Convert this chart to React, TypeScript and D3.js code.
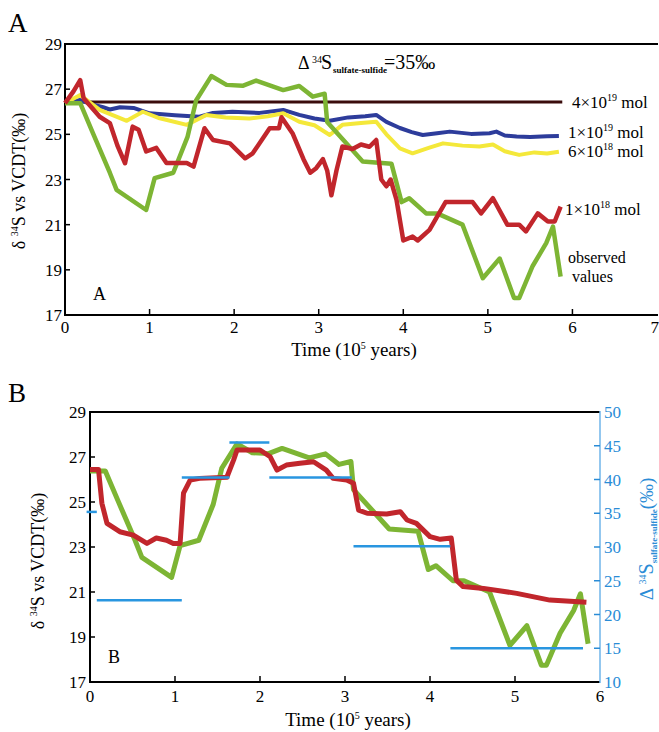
import React from "react";
import * as d3 from "d3";

type Pt = [number, number];

// time in 10^5 years, δ34S in ‰
const observed: Pt[] = [
  [0, 26.38], [0.18, 26.38], [0.33, 25.05], [0.53, 23.3], [0.61, 22.54], [0.96, 21.65],
  [1.06, 23.06], [1.28, 23.3], [1.45, 24.9], [1.55, 26.5], [1.73, 27.58], [1.91, 27.19],
  [2.1, 27.15], [2.26, 27.38], [2.58, 26.96], [2.77, 27.14], [2.93, 26.67], [3.07, 26.8],
  [3.1, 25.55], [3.52, 23.8], [3.86, 23.7], [3.98, 22.0], [4.07, 22.17], [4.27, 21.5],
  [4.4, 21.5], [4.7, 21.0], [4.94, 18.63], [5.14, 19.5], [5.31, 17.75], [5.37, 17.75],
  [5.53, 19.17], [5.69, 20.18], [5.77, 20.92], [5.86, 18.7],
];

const model1e18: Pt[] = [
  [0, 26.38], [0.1, 26.9], [0.18, 27.4], [0.22, 26.6], [0.41, 25.78], [0.53, 25.5],
  [0.62, 24.5], [0.71, 23.72], [0.8, 25.34], [0.87, 25.2], [0.96, 24.24], [1.08, 24.4],
  [1.2, 23.73], [1.44, 23.73], [1.52, 23.57], [1.65, 25.27], [1.75, 24.75], [1.95, 24.6],
  [2.13, 23.94], [2.22, 24.16], [2.42, 25.27], [2.53, 25.27], [2.56, 25.76], [2.69, 25.05],
  [2.82, 23.9], [2.9, 23.3], [2.97, 23.5], [3.05, 23.9], [3.1, 23.4], [3.15, 22.3],
  [3.21, 23.4], [3.28, 24.46], [3.4, 24.35], [3.5, 24.55], [3.6, 24.45], [3.68, 24.75],
  [3.74, 23.0], [3.8, 22.7], [3.85, 23.0], [3.92, 22.1], [4.0, 20.3], [4.11, 20.47],
  [4.17, 20.3], [4.31, 20.77], [4.39, 21.29], [4.5, 22.0], [4.82, 22.0], [4.92, 21.5],
  [5.06, 22.17], [5.23, 21.0], [5.37, 21.0], [5.45, 20.7], [5.59, 21.5], [5.71, 21.14],
  [5.79, 21.14], [5.86, 21.8],
];

const model6e18: Pt[] = [
  [0, 26.38], [0.18, 26.74], [0.41, 26.08], [0.6, 25.8], [0.73, 25.6], [0.92, 26.0],
  [1.12, 25.71], [1.44, 25.42], [1.67, 25.86], [1.9, 25.75], [2.18, 25.7], [2.4, 25.8],
  [2.58, 25.93], [2.77, 25.56], [2.95, 25.4], [3.13, 24.97], [3.28, 25.42], [3.5, 25.5],
  [3.68, 25.56], [3.8, 25.0], [3.96, 24.38], [4.11, 24.16], [4.3, 24.4], [4.47, 24.6],
  [4.7, 24.5], [4.9, 24.46], [5.06, 24.55], [5.2, 24.25], [5.37, 24.09], [5.55, 24.2],
  [5.7, 24.15], [5.84, 24.23],
];

const model1e19: Pt[] = [
  [0, 26.38], [0.18, 26.52], [0.3, 26.35], [0.45, 26.2], [0.53, 26.1], [0.65, 26.2],
  [0.81, 26.17], [1.0, 25.93], [1.3, 25.85], [1.59, 25.78], [1.75, 25.95], [1.98, 26.0],
  [2.3, 25.95], [2.58, 26.08], [2.77, 25.86], [2.95, 25.7], [3.13, 25.6], [3.35, 25.75],
  [3.55, 25.8], [3.68, 25.86], [3.8, 25.55], [3.96, 25.28], [4.1, 25.1], [4.23, 24.97],
  [4.4, 25.05], [4.55, 25.12], [4.8, 25.02], [5.02, 25.05], [5.1, 25.12], [5.2, 24.95],
  [5.34, 24.9], [5.5, 24.88], [5.7, 24.92], [5.84, 24.93],
];

const model4e19: Pt[] = [[0, 26.43], [5.88, 26.43]];

// model with the varying fractionation (panel B)
const modelVariable: Pt[] = [
  [0, 26.45], [0.1, 26.45], [0.14, 24.94], [0.2, 24.05], [0.35, 23.68], [0.51, 23.53],
  [0.67, 23.16], [0.78, 23.4], [0.9, 23.3], [0.98, 23.16], [1.06, 23.16], [1.1, 25.39],
  [1.18, 25.98], [1.29, 26.05], [1.61, 26.1], [1.69, 26.87], [1.73, 27.31], [2.0, 27.31],
  [2.12, 27.01], [2.2, 26.42], [2.31, 26.64], [2.47, 26.72], [2.63, 26.79], [2.78, 26.42],
  [2.86, 26.05], [3.02, 25.98], [3.1, 25.83], [3.16, 24.64], [3.26, 24.5], [3.49, 24.47],
  [3.65, 24.57], [3.73, 24.2], [3.84, 24.05], [4.0, 23.46], [4.12, 23.34], [4.25, 23.4],
  [4.31, 21.53], [4.39, 21.24], [4.63, 21.16], [5.02, 20.94], [5.41, 20.64], [5.84, 20.54],
];

// [start, end, Δ34S sulfate-sulfide]
const deltaSteps: [number, number, number][] = [
  [-0.04, 0.08, 35.2], [0.08, 1.08, 22.1], [1.08, 1.64, 40.3], [1.64, 2.11, 45.5],
  [2.11, 3.08, 40.3], [3.1, 4.24, 30.1], [4.24, 5.8, 15],
];

const xTicksA = [0, 1, 2, 3, 4, 5, 6, 7];
const xTicksB = [0, 1, 2, 3, 4, 5, 6];
const yTicks = [17, 19, 21, 23, 25, 27, 29];
const rightTicks = [10, 15, 20, 25, 30, 35, 40, 45, 50];

const serif = "'Liberation Serif', 'DejaVu Serif', serif";
const cGreen = "#7db534";
const cRed = "#c1262c";
const cBlue = "#2d3c9b";
const cYellow = "#f4e83a";
const cDark = "#3a0c0c";
const cStep = "#2996e0";
const cRight = "#2a8cd6";

const xA = d3.scaleLinear().domain([0, 7]).range([65, 657]);
const yA = d3.scaleLinear().domain([17, 29]).range([315, 44]);
const xB = d3.scaleLinear().domain([0, 6]).range([90, 600]);
const yB = d3.scaleLinear().domain([17, 29]).range([682, 412]);
const yR = d3.scaleLinear().domain([10, 50]).range([682, 412]);

const lineA = d3.line<Pt>().x((d) => xA(d[0])).y((d) => yA(d[1]));
const lineB = d3.line<Pt>().x((d) => xB(d[0])).y((d) => yB(d[1]));

const Mol = ({ x, y, a, e }: { x: number; y: number; a: string; e: string }) => (
  <text x={x} y={y} fontSize={17} fontFamily={serif}>
    {a}×10
    <tspan dy={-7} fontSize={10}>{e}</tspan>
    <tspan dy={7}> mol</tspan>
  </text>
);

const App = () => {
  const [x0A, x1A] = xA.range();
  const [y0A, y1A] = yA.range();
  const [x0B, x1B] = xB.range();
  const [y0B, y1B] = yB.range();

  return (
    <svg
      width={659}
      height={732}
      style={{ position: "absolute", left: 0, top: 0, background: "#fff" }}
      fontFamily={serif}
    >
      {/* ---------- panel A ---------- */}
      <text x={8} y={32} fontSize={27}>A</text>

      <line x1={x0A} x2={x1A + 1} y1={y1A} y2={y1A} stroke="#000" strokeWidth={2} />
      <line x1={x0A} x2={x0A} y1={y1A - 1} y2={y0A + 1} stroke="#000" strokeWidth={2} />
      <line x1={x0A - 1} x2={x1A + 1} y1={y0A} y2={y0A} stroke="#000" strokeWidth={2} />

      {yTicks.map((t) => (
        <g key={"ya" + t}>
          {t !== 17 && t !== 29 && (
            <line x1={x0A} x2={x0A + 5} y1={yA(t)} y2={yA(t)} stroke="#000" strokeWidth={1.5} />
          )}
          <text x={x0A - 3} y={yA(t) + 6} fontSize={17} textAnchor="end">{t}</text>
        </g>
      ))}
      {xTicksA.map((t) => (
        <g key={"xa" + t}>
          {t !== 0 && t !== 7 && (
            <line x1={xA(t)} x2={xA(t)} y1={y0A} y2={y0A - 6} stroke="#000" strokeWidth={1.5} />
          )}
          <text
            x={t === 7 ? 659 : xA(t)}
            y={y0A + 18}
            fontSize={17}
            textAnchor={t === 7 ? "end" : "middle"}
          >
            {t}
          </text>
        </g>
      ))}

      <text x={354} y={356} fontSize={19} textAnchor="middle">
        Time (10<tspan dy={-7} fontSize={10}>5</tspan><tspan dy={7}> years)</tspan>
      </text>
      <text transform="translate(25,181) rotate(-90)" fontSize={18} textAnchor="middle">
        δ <tspan dy={-7} fontSize={10}>34</tspan><tspan dy={7}>S vs VCDT(‰)</tspan>
      </text>

      <path d={lineA(model4e19) || ""} fill="none" stroke={cDark} strokeWidth={3} />
      <path d={lineA(model1e19) || ""} fill="none" stroke={cBlue} strokeWidth={4} strokeLinejoin="round" />
      <path d={lineA(model6e18) || ""} fill="none" stroke={cYellow} strokeWidth={4} strokeLinejoin="round" />
      <path d={lineA(observed) || ""} fill="none" stroke={cGreen} strokeWidth={4.5} strokeLinejoin="round" />
      <path d={lineA(model1e18) || ""} fill="none" stroke={cRed} strokeWidth={4.5} strokeLinejoin="round" />

      <text x={298} y={69} fontSize={18}>Δ</text>
      <text x={312} y={63} fontSize={10}>34</text>
      <text x={321} y={69} fontSize={20}>S</text>
      <text x={333} y={73} fontSize={9} fontWeight="bold">sulfate-sulfide</text>
      <text x={384} y={69} fontSize={20}>=35‰</text>

      <Mol x={572} y={108} a="4" e="19" />
      <Mol x={568} y={138} a="1" e="19" />
      <Mol x={568} y={157} a="6" e="18" />
      <Mol x={565} y={215} a="1" e="18" />
      <text x={568} y={263} fontSize={16}>observed</text>
      <text x={572} y={282} fontSize={16}>values</text>

      <text x={93} y={300} fontSize={18}>A</text>

      {/* ---------- panel B ---------- */}
      <text x={8} y={402} fontSize={27}>B</text>

      <line x1={x0B} x2={x1B} y1={y1B} y2={y1B} stroke="#000" strokeWidth={2} />
      <line x1={x0B} x2={x0B} y1={y1B - 1} y2={y0B + 1} stroke="#000" strokeWidth={2} />
      <line x1={x0B - 1} x2={x1B} y1={y0B} y2={y0B} stroke="#000" strokeWidth={2} />
      <line x1={x1B} x2={x1B} y1={y1B - 1} y2={y0B + 1} stroke="#6fb4ea" strokeWidth={1.5} />

      {yTicks.map((t) => (
        <g key={"yb" + t}>
          {t !== 17 && t !== 29 && (
            <line x1={x0B} x2={x0B + 5} y1={yB(t)} y2={yB(t)} stroke="#000" strokeWidth={1.5} />
          )}
          <text x={x0B - 4} y={yB(t) + 6} fontSize={17} textAnchor="end">{t}</text>
        </g>
      ))}
      {xTicksB.map((t) => (
        <g key={"xb" + t}>
          {t !== 0 && t !== 6 && (
            <line x1={xB(t)} x2={xB(t)} y1={y0B} y2={y0B - 6} stroke="#000" strokeWidth={1.5} />
          )}
          <text x={xB(t)} y={y0B + 20} fontSize={17} textAnchor="middle">{t}</text>
        </g>
      ))}
      {rightTicks.map((t) => (
        <g key={"yr" + t}>
          {t !== 10 && t !== 50 && (
            <line x1={x1B - 6} x2={x1B} y1={yR(t)} y2={yR(t)} stroke={cRight} strokeWidth={1.5} />
          )}
          <text x={x1B + 4} y={yR(t) + 6} fontSize={17} fill={cRight}>{t}</text>
        </g>
      ))}

      <text x={348} y={726} fontSize={19} textAnchor="middle">
        Time (10<tspan dy={-7} fontSize={10}>5</tspan><tspan dy={7}> years)</tspan>
      </text>
      <text transform="translate(44,561) rotate(-90)" fontSize={18} textAnchor="middle">
        δ <tspan dy={-7} fontSize={10}>34</tspan><tspan dy={7}>S vs VCDT(‰)</tspan>
      </text>
      <text transform="translate(653,539) rotate(-90)" fontSize={19} textAnchor="middle" fill={cRight}>
        Δ <tspan dy={-7} fontSize={10}>34</tspan>
        <tspan dy={7} fontSize={20}>S</tspan>
        <tspan dy={4} fontSize={9} fontWeight="bold">sulfate-sulfide</tspan>
        <tspan dy={-4}>(‰)</tspan>
      </text>

      <path d={lineB(observed) || ""} fill="none" stroke={cGreen} strokeWidth={5} strokeLinejoin="round" />
      <path d={lineB(modelVariable) || ""} fill="none" stroke={cRed} strokeWidth={5} strokeLinejoin="round" />
      {deltaSteps.map(([a, b, v], i) => (
        <line key={"s" + i} x1={xB(a)} x2={xB(b)} y1={yR(v)} y2={yR(v)} stroke={cStep} strokeWidth={2.5} />
      ))}

      <text x={108} y={663} fontSize={18}>B</text>
    </svg>
  );
};

export default App;
